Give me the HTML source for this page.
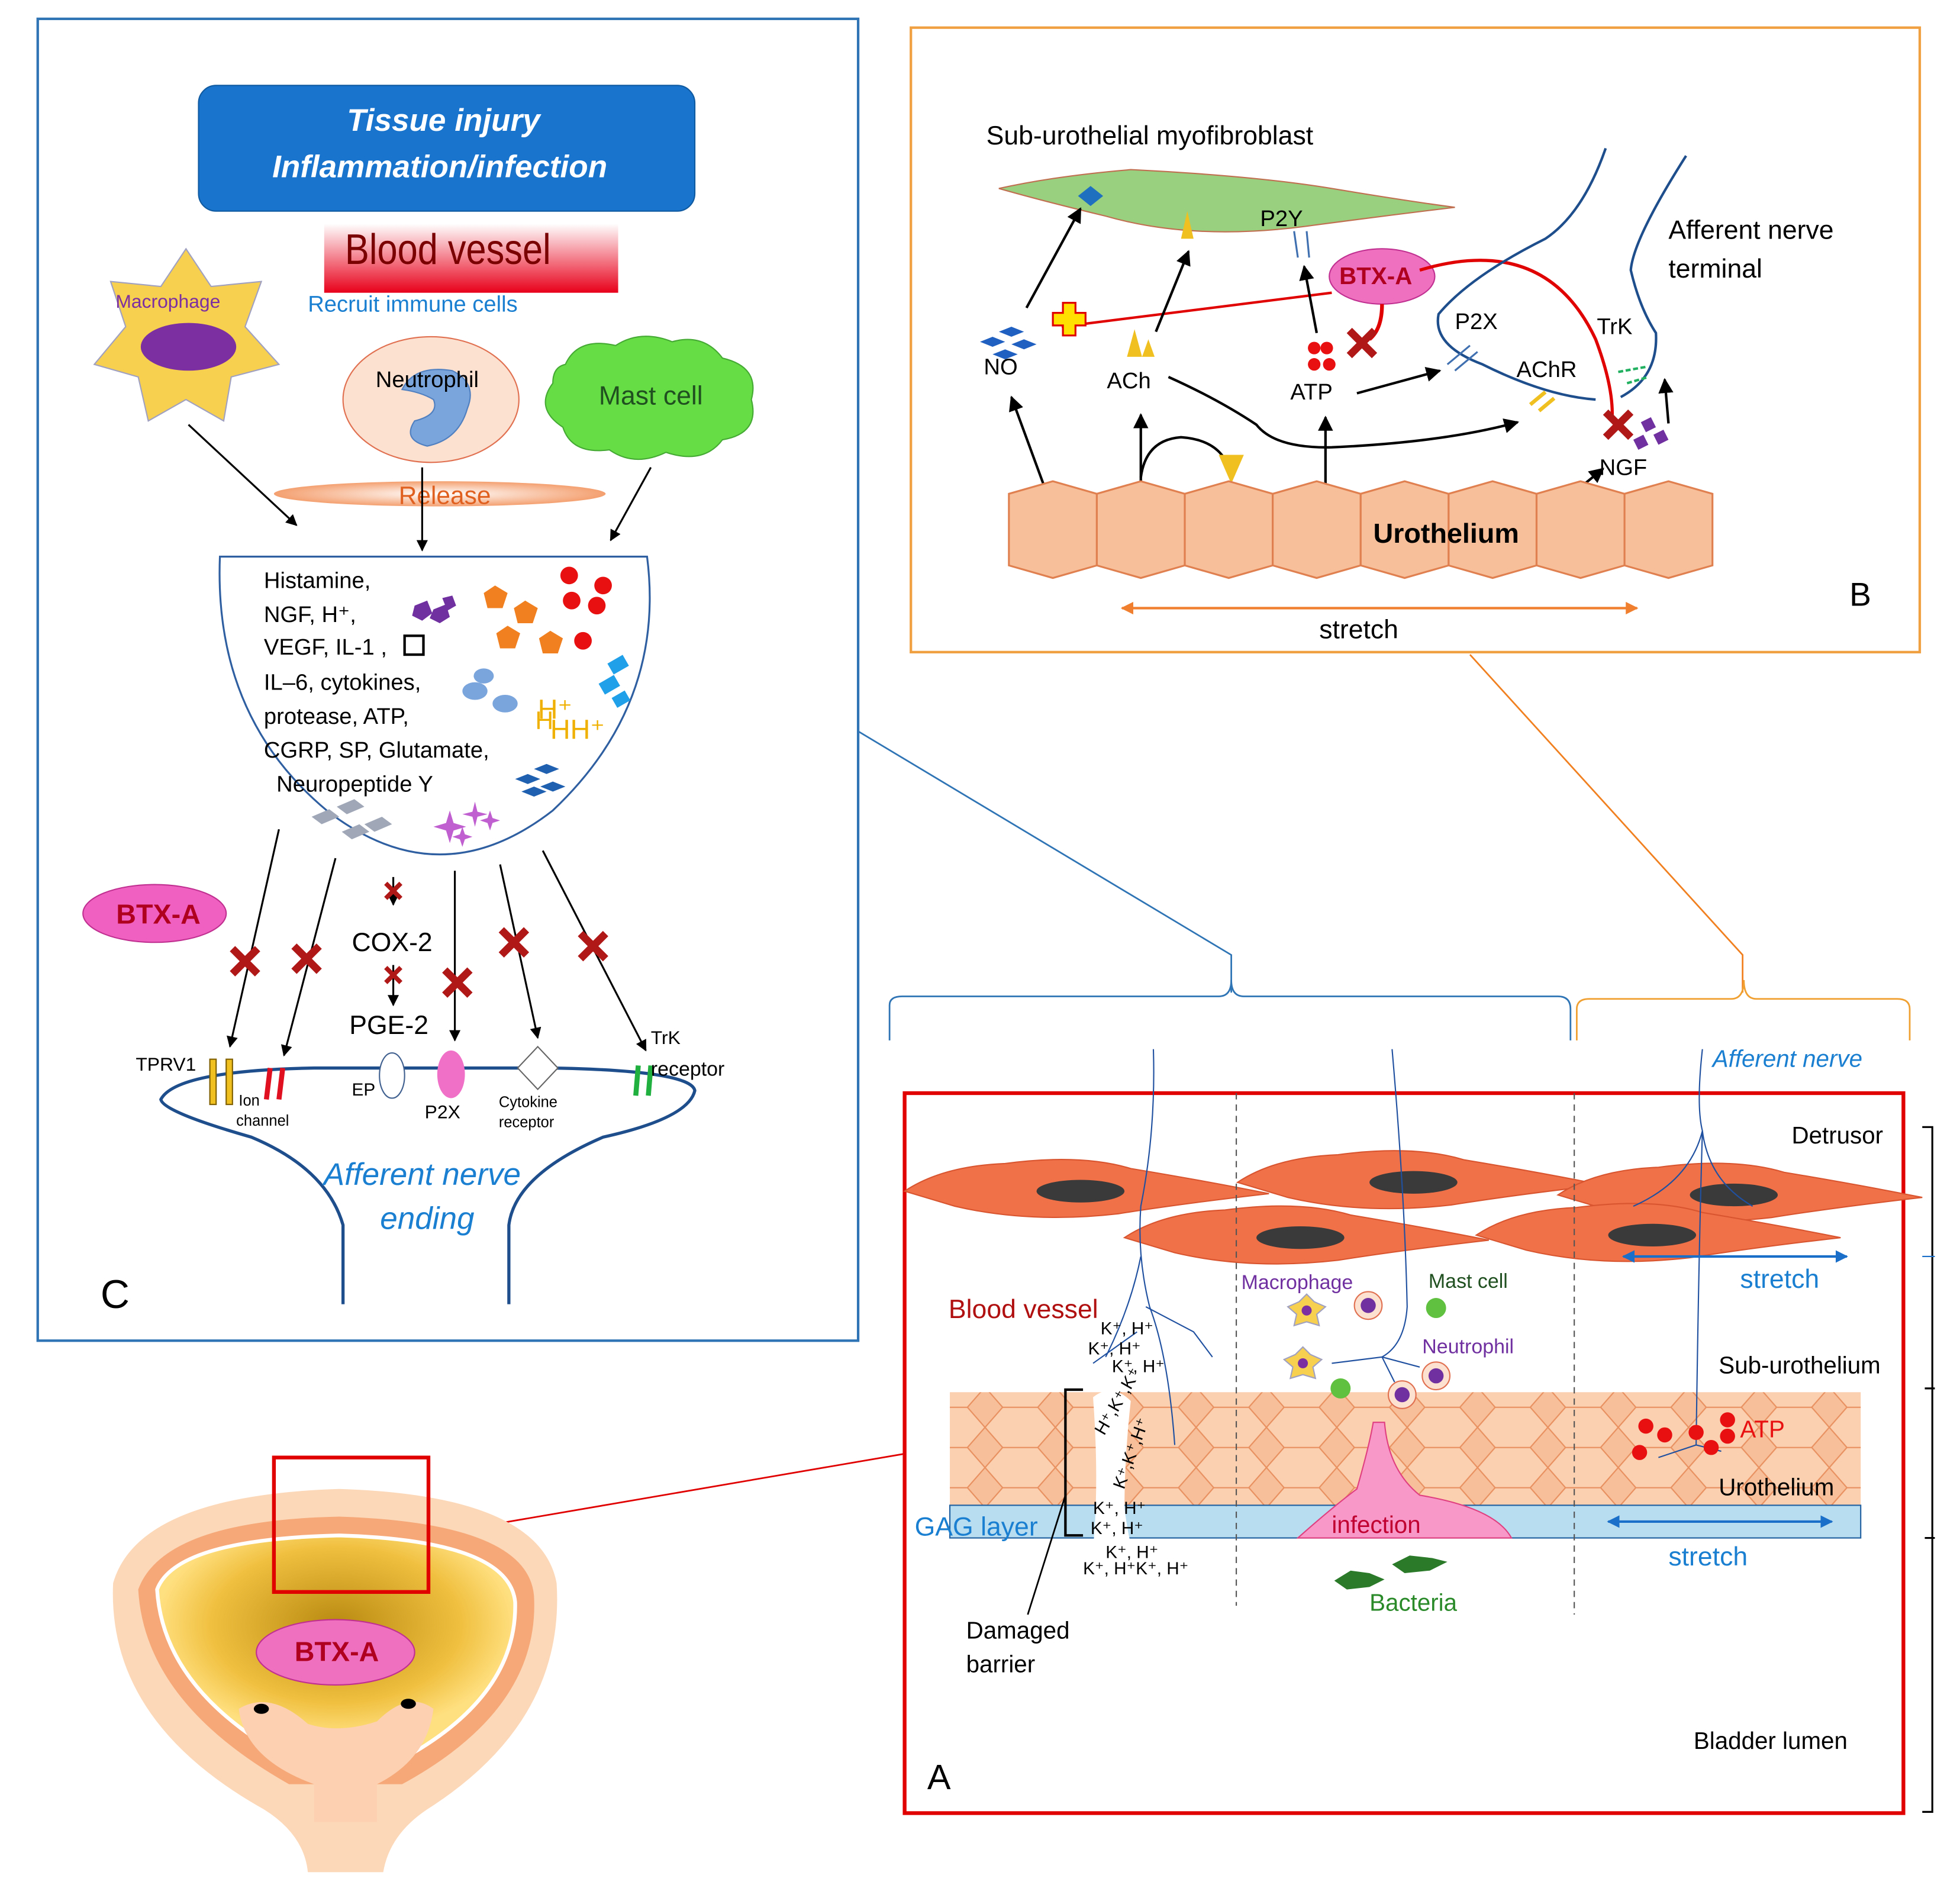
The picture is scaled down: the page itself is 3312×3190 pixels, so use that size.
<!DOCTYPE html>
<html><head><meta charset="utf-8"><style>
html,body{margin:0;padding:0;background:#fff}
svg{display:block}
text{font-family:"Liberation Sans",sans-serif}
</style></head><body>
<svg width="3312" height="3190" viewBox="0 0 1560 1502.6" xmlns="http://www.w3.org/2000/svg">
<defs>
<linearGradient id="bv" x1="0" y1="0" x2="0" y2="1"><stop offset="0" stop-color="#fff"/><stop offset="1" stop-color="#e8001a"/></linearGradient>
<radialGradient id="rel"><stop offset="0" stop-color="#fff"/><stop offset="1" stop-color="#f4a070"/></radialGradient>
<radialGradient id="blad" cx="0.5" cy="0.4"><stop offset="0" stop-color="#b88a10"/><stop offset="0.7" stop-color="#f0c040"/><stop offset="1" stop-color="#ffe080"/></radialGradient>
<pattern id="cells" width="56" height="32" patternUnits="userSpaceOnUse"><rect width="56" height="32" fill="#f8c09a"/><path d="M0 16 L14 0 L42 0 L56 16 L42 32 L14 32 Z" fill="#fbd0b0" stroke="#e89060" stroke-width="1"/></pattern>
<marker id="ar" viewBox="0 0 10 10" refX="9" refY="5" markerWidth="6" markerHeight="6" orient="auto"><path d="M0 0L10 5L0 10z" fill="#000"/></marker>
<marker id="ab" viewBox="0 0 10 10" refX="9" refY="5" markerWidth="5" markerHeight="5" orient="auto-start-reverse"><path d="M0 0L10 5L0 10z" fill="#1a6fc8"/></marker>
<marker id="ao" viewBox="0 0 10 10" refX="9" refY="5" markerWidth="5" markerHeight="5" orient="auto-start-reverse"><path d="M0 0L10 5L0 10z" fill="#f08030"/></marker>
<g id="xm"><path d="M-10 -10L10 10M10 -10L-10 10" stroke="#b01818" stroke-width="6"/></g>
<g id="dcell"><path d="M-140 0 Q-110 -20 -60 -22 Q0 -30 40 -18 Q100 -8 150 2 Q80 10 30 18 Q-40 26 -100 12 Z" fill="#f07048" stroke="#d85530"/><ellipse cx="0" cy="0" rx="35" ry="9" fill="#3a3a3a"/></g>
</defs>

<!-- Panel C -->
<rect x="30" y="15" width="653" height="1052" fill="#fff" stroke="#2f75b5" stroke-width="2"/>
<rect x="158" y="68" width="395" height="100" rx="14" fill="#1874cd" stroke="#0f5aa0"/>
<text x="353" y="104" text-anchor="middle" font-size="25" font-weight="bold" font-style="italic" fill="#fff">Tissue injury</text>
<text x="350" y="141" text-anchor="middle" font-size="25" font-weight="bold" font-style="italic" fill="#fff">Inflammation/infection</text>
<rect x="258" y="178" width="234" height="55" fill="url(#bv)"/>
<text x="275" y="210" font-size="34" fill="#7a0000" transform="scale(0.85,1) translate(48,0)">Blood vessel</text>
<text x="245" y="248" font-size="18" fill="#1a7fd0">Recruit immune cells</text>
<polygon points="148,198 168,228 208,224 195,260 222,290 184,300 178,335 148,318 118,335 110,300 75,290 100,260 88,224 128,228" fill="#f8d050" stroke="#a0a0c0"/>
<ellipse cx="150" cy="276" rx="38" ry="19" fill="#7b2fa0"/>
<text x="92" y="245" font-size="15" fill="#7b2fa0">Macrophage</text>
<ellipse cx="343" cy="318" rx="70" ry="50" fill="#fce0d0" stroke="#e07050"/>
<path d="M320 310 Q330 290 360 295 Q380 305 372 325 Q365 350 340 355 Q320 350 330 335 Q350 330 345 318 Q335 312 320 310Z" fill="#7aa4dc" stroke="#5080c0"/>
<text x="340" y="308" text-anchor="middle" font-size="18">Neutrophil</text>
<path d="M450 290 Q460 268 490 275 Q510 262 535 272 Q560 265 575 285 Q605 292 598 318 Q605 345 575 350 Q560 370 530 360 Q505 372 485 358 Q455 362 448 340 Q425 325 440 305 Q440 292 450 290Z" fill="#66dd44" stroke="#44aa33"/>
<text x="518" y="322" text-anchor="middle" font-size="21" fill="#205020">Mast cell</text>
<ellipse cx="350" cy="393" rx="132" ry="10" fill="url(#rel)"/>
<text x="354" y="401" text-anchor="middle" font-size="20" fill="#e06020">Release</text>
<line x1="150" y1="338" x2="236" y2="418" stroke="#000" stroke-width="1.5" marker-end="url(#ar)"/>
<line x1="336" y1="372" x2="336" y2="438" stroke="#000" stroke-width="1.5" marker-end="url(#ar)"/>
<line x1="518" y1="372" x2="486" y2="430" stroke="#000" stroke-width="1.5" marker-end="url(#ar)"/>
<path d="M175 443 L515 443 Q530 560 440 645 Q350 715 260 645 Q170 570 175 443Z" fill="#fff" stroke="#2f5fa0" stroke-width="1.5"/>
<g font-size="18">
<text x="210" y="468">Histamine,</text>
<text x="210" y="495">NGF, H⁺,</text>
<text x="210" y="521">VEGF, IL-1  ,</text>
<text x="210" y="549">IL–6, cytokines,</text>
<text x="210" y="576">protease, ATP,</text>
<text x="210" y="603">CGRP, SP, Glutamate,</text>
<text x="220" y="630">Neuropeptide Y</text>
</g>
<rect x="322" y="506" width="15" height="15" fill="none" stroke="#000" stroke-width="2"/>
<g fill="#7030a0"><polygon points="330,482 340,478 344,488 336,494 328,490"/><polygon points="345,485 355,481 358,491 350,496 342,492"/><polygon points="352,476 360,474 363,482 356,486"/></g>
<g fill="#f08020"><polygon points="394,466 404,472 400,484 388,484 385,472"/><polygon points="418,478 428,484 424,496 412,496 409,484"/><polygon points="404,498 414,504 410,516 398,516 395,504"/><polygon points="438,502 448,508 444,520 432,520 429,508"/></g>
<g fill="#e81010"><circle cx="453" cy="458" r="7"/><circle cx="480" cy="466" r="7"/><circle cx="455" cy="478" r="7"/><circle cx="475" cy="482" r="7"/><circle cx="464" cy="510" r="7"/></g>
<g fill="#7aa4dc"><ellipse cx="378" cy="550" rx="10" ry="7"/><ellipse cx="402" cy="560" rx="10" ry="7"/><ellipse cx="385" cy="538" rx="8" ry="6"/></g>
<g fill="#20a0e8"><rect x="485" y="524" width="14" height="10" transform="rotate(-30 492 529)"/><rect x="478" y="540" width="14" height="10" transform="rotate(-30 485 545)"/><rect x="488" y="552" width="12" height="9" transform="rotate(-30 494 556)"/></g>
<text x="428" y="572" font-size="22" fill="#f0b000">H⁺</text><text x="438" y="588" font-size="22" fill="#f0b000">HH⁺</text><text x="426" y="580" font-size="20" fill="#f0b000">H</text>
<g fill="#2060b0"><polygon points="410,620 420,616 430,620 420,624"/><polygon points="425,612 435,608 445,612 435,616"/><polygon points="430,626 440,622 450,626 440,630"/><polygon points="415,630 425,626 435,630 425,634"/></g>
<g fill="#a0a8b8"><polygon points="248,650 262,644 270,650 256,656"/><polygon points="268,642 282,636 290,642 276,648"/><polygon points="272,662 286,656 294,662 280,668"/><polygon points="290,656 304,650 312,656 298,662"/></g>
<g fill="#c060d0"><path d="M358 645 L361 655 L371 658 L361 661 L358 671 L355 661 L345 658 L355 655Z"/><path d="M378 638 L380 646 L388 648 L380 650 L378 658 L376 650 L368 648 L376 646Z"/><path d="M368 658 L370 664 L376 666 L370 668 L368 674 L366 668 L360 666 L366 664Z"/><path d="M390 645 L392 651 L398 653 L392 655 L390 661 L388 655 L382 653 L388 651Z"/></g>
<ellipse cx="123" cy="727" rx="57" ry="23" fill="#f060c0" stroke="#c03090"/>
<text x="126" y="735" text-anchor="middle" font-size="22" font-weight="bold" fill="#b00020">BTX-A</text>
<g stroke="#000" stroke-width="1.5" fill="none">
<line x1="222" y1="660" x2="183" y2="833" marker-end="url(#ar)"/>
<line x1="267" y1="683" x2="226" y2="840" marker-end="url(#ar)"/>
<line x1="313" y1="698" x2="313" y2="720" marker-end="url(#ar)"/>
<line x1="313" y1="768" x2="313" y2="800" marker-end="url(#ar)"/>
<line x1="362" y1="693" x2="362" y2="828" marker-end="url(#ar)"/>
<line x1="398" y1="688" x2="428" y2="826" marker-end="url(#ar)"/>
<line x1="432" y1="677" x2="514" y2="836" marker-end="url(#ar)"/>
</g>
<use href="#xm" x="195" y="765"/><use href="#xm" x="244" y="763"/><use href="#xm" x="364" y="782"/><use href="#xm" x="409" y="750"/><use href="#xm" x="472" y="753"/>
<g transform="translate(313 709) scale(.6)"><use href="#xm"/></g><g transform="translate(313 776) scale(.6)"><use href="#xm"/></g>
<text x="280" y="757" font-size="21">COX-2</text>
<text x="278" y="823" font-size="21">PGE-2</text>
<path d="M273 1038 L273 975 Q260 930 200 905 Q130 885 128 875 Q140 852 250 850 L440 850 Q550 852 553 868 Q548 890 480 905 Q410 935 405 975 L405 1038" fill="none" stroke="#1f4e8c" stroke-width="2.5"/>
<rect x="167" y="843" width="5" height="36" fill="#f0c020" stroke="#806000"/><rect x="180" y="843" width="5" height="36" fill="#f0c020" stroke="#806000"/>
<path d="M215 850 L212 875 M225 850 L222 875" stroke="#e01020" stroke-width="4"/>
<path d="M508 848 L506 872 M518 848 L516 872" stroke="#20b040" stroke-width="4"/>
<ellipse cx="312" cy="856" rx="10" ry="18" fill="#fff" stroke="#406090"/>
<ellipse cx="359" cy="855" rx="11" ry="19" fill="#f070c8"/>
<polygon points="428,833 444,850 428,867 412,850" fill="#fff" stroke="#666"/>
<text x="108" y="852" font-size="15">TPRV1</text>
<text x="190" y="880" font-size="12">Ion</text><text x="188" y="896" font-size="12">channel</text>
<text x="280" y="872" font-size="14">EP</text>
<text x="338" y="890" font-size="15">P2X</text>
<text x="397" y="881" font-size="12">Cytokine</text><text x="397" y="897" font-size="12">receptor</text>
<text x="518" y="831" font-size="15">TrK</text><text x="518" y="856" font-size="16">receptor</text>
<text x="336" y="943" text-anchor="middle" font-size="25" font-style="italic" fill="#1a7fd0">Afferent nerve</text>
<text x="340" y="978" text-anchor="middle" font-size="25" font-style="italic" fill="#1a7fd0">ending</text>
<text x="80" y="1041" font-size="32">C</text>

<!-- connectors -->
<polyline points="683,582 980,760 980,790" fill="none" stroke="#2f75b5" stroke-width="1.3"/>
<path d="M708 828 L708 800 Q708 793 718 793 L970 793 Q980 793 980 780 Q980 793 990 793 L1240 793 Q1250 793 1250 803 L1250 828" fill="none" stroke="#2f75b5" stroke-width="1.3"/>
<polyline points="1170,521 1387,760 1387,790" fill="none" stroke="#f08020" stroke-width="1.3"/>
<path d="M1255 828 L1255 803 Q1255 795 1265 795 L1378 795 Q1388 795 1388 780 Q1388 795 1398 795 L1510 795 Q1520 795 1520 803 L1520 828" fill="none" stroke="#f0a030" stroke-width="1.3"/>
<line x1="341" y1="1222" x2="720" y2="1157" stroke="#e00000" stroke-width="1.3"/>

<!-- Panel B -->
<rect x="725" y="22" width="803" height="497" fill="#fff" stroke="#f0a040" stroke-width="2"/>
<text x="785" y="115" font-size="21">Sub-urothelial myofibroblast</text>
<path d="M795 150 Q840 140 900 135 Q1000 140 1060 150 Q1120 160 1158 165 Q1100 172 1040 180 Q950 192 880 172 Q830 160 795 150Z" fill="#98d080" stroke="#c07050"/>
<polygon points="868,148 878,156 868,164 858,156" fill="#2070c0"/>
<polygon points="945,168 950,190 940,190" fill="#f0c020"/>
<path d="M1030 184 L1033 205 M1040 184 L1042 205" stroke="#4070b0" stroke-width="1.5"/>
<text x="1003" y="180" font-size="18">P2Y</text>
<ellipse cx="1100" cy="220" rx="42" ry="22" fill="#f070c0" stroke="#c03090"/>
<text x="1095" y="226" text-anchor="middle" font-size="19" font-weight="bold" fill="#b00020">BTX-A</text>
<line x1="845" y1="260" x2="1060" y2="233" stroke="#e00000" stroke-width="2"/>
<path d="M838 249 h8 v-8 h10 v8 h8 v10 h-8 v8 h-10 v-8 h-8z" fill="#ffe000" stroke="#e00000" stroke-width="1.5"/>
<path d="M1100 242 Q1100 262 1090 270" stroke="#e00000" stroke-width="3" fill="none"/>
<use href="#xm" x="1084" y="273"/>
<path d="M1130 215 Q1230 185 1270 270 Q1285 310 1283 335" stroke="#e00000" stroke-width="2.5" fill="none"/>
<use href="#xm" x="1288" y="338"/>
<path d="M1278 118 Q1260 170 1230 190 Q1170 220 1145 250 Q1140 275 1180 290 Q1230 315 1270 318" stroke="#1f4e8c" stroke-width="2" fill="none"/>
<path d="M1342 124 Q1300 190 1298 215 Q1305 245 1318 265 Q1320 300 1290 316" stroke="#1f4e8c" stroke-width="2" fill="none"/>
<text x="1328" y="190" font-size="21">Afferent nerve</text>
<text x="1328" y="221" font-size="21">terminal</text>
<g fill="#2060c0"><polygon points="780,272 790,268 800,272 790,276"/><polygon points="795,264 805,260 815,264 805,268"/><polygon points="805,274 815,270 825,274 815,278"/><polygon points="790,282 800,278 810,282 800,286"/></g>
<text x="783" y="298" font-size="18">NO</text>
<g fill="#f0c020"><polygon points="903,262 909,284 897,284"/><polygon points="914,270 919,284 909,284"/></g>
<text x="881" y="309" font-size="18">ACh</text>
<g fill="#e81010"><circle cx="1046" cy="277" r="5"/><circle cx="1056" cy="277" r="5"/><circle cx="1046" cy="290" r="5"/><circle cx="1058" cy="290" r="5"/></g>
<text x="1027" y="318" font-size="18">ATP</text>
<path d="M1152 290 L1170 275 M1158 295 L1176 280" stroke="#4070b0" stroke-width="1.5"/>
<text x="1158" y="262" font-size="18">P2X</text>
<path d="M1218 322 L1230 312 M1225 327 L1237 317" stroke="#f0c020" stroke-width="3"/>
<text x="1207" y="300" font-size="18">AChR</text>
<text x="1271" y="266" font-size="18">TrK</text>
<path d="M1288 296 L1310 292 M1295 305 L1312 300" stroke="#20b060" stroke-width="2" stroke-dasharray="4 2"/>
<g fill="#7030a0"><polygon points="1306,336 1314,332 1318,340 1310,344"/><polygon points="1316,346 1324,342 1328,350 1320,354"/><polygon points="1300,350 1308,346 1312,354 1304,358"/></g>
<text x="1273" y="378" font-size="18">NGF</text>
<g stroke="#000" stroke-width="2" fill="none">
<line x1="817" y1="245" x2="860" y2="166" marker-end="url(#ar)"/>
<line x1="920" y1="264" x2="946" y2="200" marker-end="url(#ar)"/>
<line x1="1048" y1="265" x2="1038" y2="212" marker-end="url(#ar)"/>
<line x1="1080" y1="313" x2="1146" y2="295" marker-end="url(#ar)"/>
<line x1="1328" y1="337" x2="1325" y2="302" marker-end="url(#ar)"/>
<line x1="1243" y1="400" x2="1276" y2="373" marker-end="url(#ar)"/>
<line x1="837" y1="403" x2="805" y2="316" marker-end="url(#ar)"/>
<line x1="1055" y1="403" x2="1055" y2="332" marker-end="url(#ar)"/>
<path d="M908 403 L908 330" marker-end="url(#ar)"/>
<path d="M908 380 Q912 350 940 348 Q970 350 978 372"/>
<path d="M930 300 Q970 318 1000 338 Q1015 357 1060 356 Q1150 352 1208 336" marker-end="url(#ar)"/>
</g>
<polygon points="970,362 990,362 980,385" fill="#f0c020"/>
<g fill="#f8c09a" stroke="#e08050" stroke-width="1.5">
<polygon points="803,393 838,383 873,393 873,450 838,460 803,450"/>
<polygon points="873,393 908,383 943,393 943,450 908,460 873,450"/>
<polygon points="943,393 978,383 1013,393 1013,450 978,460 943,450"/>
<polygon points="1013,393 1048,383 1083,393 1083,450 1048,460 1013,450"/>
<polygon points="1083,393 1118,383 1153,393 1153,450 1118,460 1083,450"/>
<polygon points="1153,393 1188,383 1223,393 1223,450 1188,460 1153,450"/>
<polygon points="1223,393 1258,383 1293,393 1293,450 1258,460 1223,450"/>
<polygon points="1293,393 1328,383 1363,393 1363,450 1328,460 1293,450"/>
</g>
<text x="1093" y="432" font-size="22" font-weight="bold">Urothelium</text>
<line x1="893" y1="484" x2="1303" y2="484" stroke="#f08030" stroke-width="2" marker-start="url(#ao)" marker-end="url(#ao)"/>
<text x="1050" y="508" font-size="21">stretch</text>
<text x="1472" y="482" font-size="26">B</text>

<!-- Panel A -->
<text x="1363" y="849" font-size="19" font-style="italic" fill="#1a7fd0">Afferent nerve</text>
<rect x="720" y="870" width="795" height="573" fill="#fff" stroke="#e00000" stroke-width="3"/>
<rect x="756" y="1108" width="725" height="90" fill="url(#cells)"/>
<rect x="756" y="1198" width="725" height="26" fill="#b8dcf0" stroke="#2060a0"/>
<use href="#dcell" x="860" y="948"/><use href="#dcell" x="1125" y="941"/><use href="#dcell" x="1380" y="951"/>
<use href="#dcell" x="1035" y="985"/><use href="#dcell" x="1315" y="983"/>
<line x1="984" y1="870" x2="984" y2="1278" stroke="#555" stroke-dasharray="5 4"/>
<line x1="1253" y1="870" x2="1253" y2="1285" stroke="#555" stroke-dasharray="5 4"/>
<g stroke="#2050a0" fill="none" stroke-width="1">
<path d="M918 835 Q920 900 908 960 Q905 1000 915 1040 Q930 1080 935 1150"/>
<path d="M908 1000 Q900 1040 880 1080 M912 1040 L950 1060 L965 1080 M905 1060 L870 1085"/>
<path d="M1108 835 Q1118 950 1120 1040 Q1118 1070 1100 1080 L1060 1085 M1100 1080 L1110 1100 M1100 1080 L1130 1088"/>
<path d="M1355 835 Q1350 880 1355 900 Q1345 940 1300 960 M1355 900 Q1360 940 1395 960 M1355 900 Q1352 1000 1350 1150 L1320 1160 M1350 1150 L1370 1155"/>
</g>
<path d="M870 1112 Q885 1100 900 1115 Q895 1160 895 1200 Q900 1240 905 1232 L870 1232 Q875 1180 870 1112Z" fill="#fff"/>
<g font-size="14">
<text x="876" y="1062">K⁺, H⁺</text><text x="866" y="1078">K⁺, H⁺</text><text x="885" y="1092">K⁺, H⁺</text>
<text x="880" y="1125" transform="rotate(-60 895 1135)">H⁺,K⁺,K⁺</text>
<text x="880" y="1175" transform="rotate(-70 895 1170)">K⁺,K⁺,H⁺</text>
<text x="870" y="1205">K⁺, H⁺</text><text x="868" y="1221">K⁺, H⁺</text><text x="880" y="1240">K⁺, H⁺</text><text x="862" y="1253">K⁺, H⁺K⁺, H⁺</text>
</g>
<path d="M862 1106 L848 1106 L848 1222 L862 1222" stroke="#000" stroke-width="2" fill="none"/>
<line x1="848" y1="1190" x2="818" y2="1285" stroke="#000" stroke-width="1.3"/>
<text x="769" y="1304" font-size="19">Damaged</text><text x="769" y="1331" font-size="19">barrier</text>
<text x="755" y="1049" font-size="21" fill="#b01010">Blood vessel</text>
<text x="728" y="1222" font-size="21" fill="#1a7fd0">GAG layer</text>
<path d="M1033 1224 Q1060 1200 1080 1185 Q1090 1150 1093 1132 L1102 1132 Q1105 1170 1130 1190 Q1190 1200 1203 1224Z" fill="#f898c8" stroke="#e04080"/>
<text x="1060" y="1220" font-size="19" fill="#c00030">infection</text>
<text x="988" y="1026" font-size="16" fill="#7030a0">Macrophage</text>
<text x="1137" y="1025" font-size="16" fill="#205020">Mast cell</text>
<text x="1132" y="1077" font-size="16" fill="#7030a0">Neutrophil</text>
<g fill="#f8d050" stroke="#a0a0c0"><polygon points="1040,1030 1046,1036 1055,1040 1048,1046 1050,1055 1040,1052 1030,1055 1032,1046 1025,1040 1034,1036"/><polygon points="1037,1072 1043,1078 1052,1082 1045,1088 1047,1097 1037,1094 1027,1097 1029,1088 1022,1082 1031,1078"/></g>
<circle cx="1040" cy="1043" r="4" fill="#7b2fa0"/><circle cx="1037" cy="1085" r="4" fill="#7b2fa0"/>
<g fill="#fce0d0" stroke="#e07050"><circle cx="1089" cy="1039" r="11"/><circle cx="1143" cy="1095" r="11"/><circle cx="1116" cy="1110" r="11"/></g>
<g fill="#7030a0"><circle cx="1089" cy="1039" r="6"/><circle cx="1143" cy="1095" r="6"/><circle cx="1116" cy="1110" r="6"/></g>
<g fill="#60c040"><circle cx="1143" cy="1041" r="8"/><circle cx="1067" cy="1105" r="8"/></g>
<g fill="#2a7a2a"><polygon points="1062,1258 1075,1250 1090,1252 1102,1257 1090,1263 1072,1265"/><polygon points="1108,1245 1122,1238 1140,1240 1152,1243 1138,1250 1118,1252"/></g>
<text x="1090" y="1282" font-size="19" fill="#2a8a2a">Bacteria</text>
<g fill="#e81010"><circle cx="1310" cy="1135" r="6"/><circle cx="1305" cy="1156" r="6"/><circle cx="1325" cy="1142" r="6"/><circle cx="1350" cy="1140" r="6"/><circle cx="1362" cy="1152" r="6"/><circle cx="1375" cy="1130" r="6"/><circle cx="1375" cy="1143" r="6"/></g>
<text x="1385" y="1144" font-size="19" fill="#e81010">ATP</text>
<line x1="1292" y1="1000" x2="1470" y2="1000" stroke="#1a6fc8" stroke-width="2" marker-start="url(#ab)" marker-end="url(#ab)"/>
<text x="1385" y="1025" font-size="21" fill="#1a7fd0">stretch</text>
<line x1="1280" y1="1211" x2="1458" y2="1211" stroke="#1a6fc8" stroke-width="2" marker-start="url(#ab)" marker-end="url(#ab)"/>
<text x="1328" y="1246" font-size="21" fill="#1a7fd0">stretch</text>
<text x="1426" y="910" font-size="19">Detrusor</text>
<text x="1368" y="1093" font-size="19">Sub-urothelium</text>
<text x="1368" y="1190" font-size="19">Urothelium</text>
<text x="1348" y="1392" font-size="19">Bladder lumen</text>
<text x="738" y="1424" font-size="28">A</text>
<path d="M1530 897 L1538 897 L1538 1442 L1530 1442 M1532 1105 L1540 1105 M1532 1224 L1540 1224" stroke="#000" stroke-width="1.5" fill="none"/>
<line x1="1530" y1="1000" x2="1540" y2="1000" stroke="#1a6fc8"/>

<!-- Bladder -->
<path d="M90 1260 Q110 1190 270 1185 Q430 1190 443 1260 Q450 1370 340 1440 Q310 1460 305 1490 L245 1490 Q242 1460 210 1440 Q85 1370 90 1260Z" fill="#fcd8b8"/>
<path d="M110 1265 Q130 1210 270 1207 Q420 1212 425 1270 Q430 1360 320 1420 L230 1420 Q115 1355 110 1265Z" fill="#f6a878"/>
<path d="M125 1265 Q140 1225 270 1222 Q405 1226 410 1275 Q412 1350 320 1400 L230 1400 Q130 1345 125 1265Z" fill="url(#blad)" stroke="#fff" stroke-width="3"/>
<path d="M190 1360 Q215 1345 245 1372 Q270 1380 300 1370 Q325 1345 345 1360 Q340 1400 300 1420 L300 1450 L250 1450 L250 1420 Q195 1400 190 1360Z" fill="#fcd0b0"/>
<ellipse cx="208" cy="1360" rx="6" ry="4" fill="#000"/><ellipse cx="325" cy="1356" rx="6" ry="4" fill="#000"/>
<ellipse cx="267" cy="1315" rx="63" ry="26" fill="#f070c0" stroke="#c03090"/>
<text x="268" y="1322" text-anchor="middle" font-size="22" font-weight="bold" fill="#b00020">BTX-A</text>
<rect x="218" y="1160" width="123" height="107" fill="none" stroke="#e00000" stroke-width="3"/>
</svg>
</body></html>
